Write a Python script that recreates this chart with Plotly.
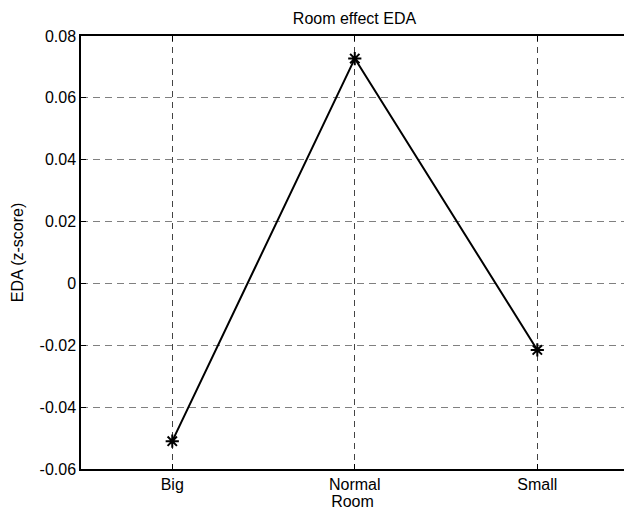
import plotly.graph_objects as go

categories = ["Big", "Normal", "Small"]
x_pos = [1, 2, 3]
eda_values = [-0.0510, 0.0727, -0.0215]
y_tickvals = [-0.06, -0.04, -0.02, 0, 0.02, 0.04, 0.06, 0.08]
y_ticktext = ["-0.06", "-0.04", "-0.02", "0", "0.02", "0.04", "0.06", "0.08"]

FONT = "Liberation Sans, Arial, Helvetica, sans-serif"
FS = 16

fig = go.Figure()
fig.add_trace(go.Scatter(
    x=x_pos, y=eda_values, mode="lines+markers",
    line=dict(color="black", width=2),
    marker=dict(symbol="asterisk-open", size=11, color="black",
                line=dict(color="black", width=2)),
    showlegend=False, cliponaxis=False,
))

fig.update_layout(
    width=624, height=513,
    margin=dict(l=81, r=0, t=36, b=44),
    paper_bgcolor="white", plot_bgcolor="white",
    font=dict(family=FONT, size=FS, color="black"),
    title=dict(text="Room effect EDA", x=354.5 / 624, xref="container",
               xanchor="center", y=1 - 18 / 513, yanchor="middle",
               font=dict(family=FONT, size=FS, color="black")),
)

fig.update_xaxes(
    range=[0.5, 3.475], tickvals=x_pos, ticktext=categories,
    showline=True, linecolor="black", linewidth=1.5, mirror="ticks",
    ticks="inside", ticklen=5, tickcolor="black", tickwidth=1,
    showgrid=True, gridcolor="#444444", gridwidth=1, griddash="6px,5px",
    zeroline=False,
    title=dict(text="Room", standoff=2, font=dict(family=FONT, size=FS)),
    tickfont=dict(family=FONT, size=FS, color="black"),
)
fig.update_yaxes(
    range=[-0.06, 0.08], tickvals=y_tickvals, ticktext=y_ticktext,
    showline=True, linecolor="black", linewidth=1.5, mirror=False,
    ticks="inside", ticklen=5, tickcolor="black", tickwidth=1,
    showgrid=True, gridcolor="#808080", gridwidth=1, griddash="7px,5px",
    zeroline=False,
    title=dict(text="EDA (z-score)", standoff=12, font=dict(family=FONT, size=FS)),
    tickfont=dict(family=FONT, size=FS, color="black"),
)

fig.write_html("out.html")
